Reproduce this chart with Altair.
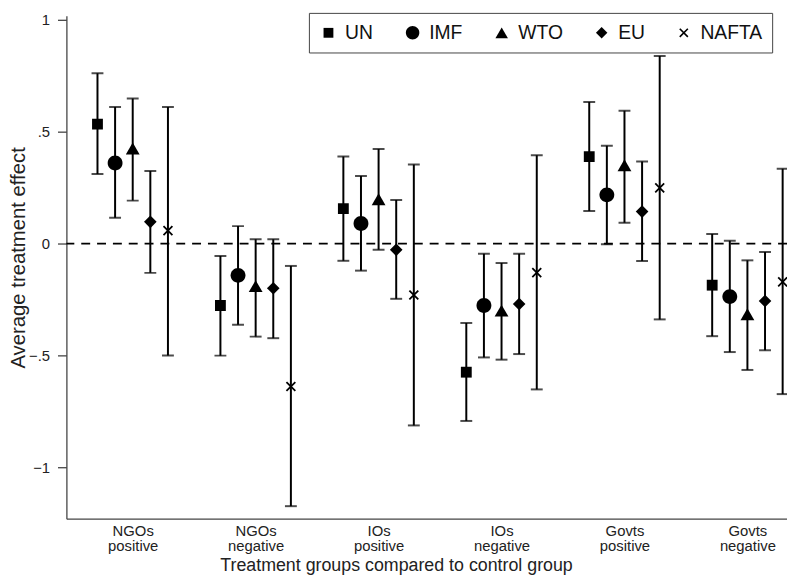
import json
import altair as alt
import pandas as pd

groups = ["NGOs positive", "NGOs negative", "IOs positive", "IOs negative", "Govts positive", "Govts negative"]
orgs = ["UN", "IMF", "WTO", "EU", "NAFTA"]

# point estimates and 95% CI bounds, one list per organisation, in group order
est = {
    "UN":    [0.534, -0.277, 0.156, -0.575, 0.389, -0.186],
    "IMF":   [0.360, -0.142, 0.090, -0.277, 0.218, -0.237],
    "WTO":   [0.425, -0.190, 0.198, -0.300, 0.350, -0.316],
    "EU":    [0.097, -0.200, -0.028, -0.270, 0.143, -0.257],
    "NAFTA": [0.058, -0.639, -0.230, -0.130, 0.249, -0.171],
}
lo = {
    "UN":    [0.311, -0.501, -0.077, -0.793, 0.146, -0.414],
    "IMF":   [0.115, -0.363, -0.121, -0.509, -0.003, -0.485],
    "WTO":   [0.192, -0.416, -0.028, -0.519, 0.093, -0.565],
    "EU":    [-0.131, -0.423, -0.247, -0.494, -0.078, -0.477],
    "NAFTA": [-0.500, -1.174, -0.813, -0.652, -0.339, -0.673],
}
hi = {
    "UN":    [0.761, -0.056, 0.389, -0.355, 0.633, 0.043],
    "IMF":   [0.611, 0.078, 0.302, -0.046, 0.437, 0.013],
    "WTO":   [0.649, 0.019, 0.423, -0.087, 0.594, -0.075],
    "EU":    [0.324, 0.019, 0.195, -0.046, 0.367, -0.038],
    "NAFTA": [0.611, -0.100, 0.354, 0.395, 0.839, 0.335],
}

rows = []
for o in orgs:
    for gi, g in enumerate(groups):
        rows.append({"group": g, "org": o, "est": est[o][gi], "lo": lo[o][gi], "hi": hi[o][gi]})
df = pd.DataFrame(rows)

FONT = "Liberation Sans"
groups_js = json.dumps(groups)
orgs_js = json.dumps(orgs)

base = alt.Chart(df).transform_calculate(
    xpos=f"indexof({groups_js}, datum.group) + 1 + (indexof({orgs_js}, datum.org) - 2) * 0.1433"
)

xscale = alt.Scale(domain=[0.4606, 6.322], nice=False, zero=False)
yscale = alt.Scale(domain=[-1.23, 1.018], nice=False, zero=False)

x_axis = alt.Axis(
    values=[1, 2, 3, 4, 5, 6],
    labelExpr=f"split({groups_js}[datum.value - 1], ' ')",
    ticks=False, grid=False, labelPadding=5, labelFontSize=15, labelLineHeight=15,
    labelOverlap=False, labelFlush=False, labelColor="#222",
    domainColor="#444", domainWidth=1.3,
    title="Treatment groups compared to control group", titleFontSize=18,
    titleFontWeight="normal", titleColor="#222", titleX=333, titleY=52,
    titleBaseline="alphabetic", titleAlign="center",
)
y_axis = alt.Axis(
    values=[-1, -0.5, 0, 0.5, 1],
    labelExpr="datum.value == 0 ? '0' : replace(format(datum.value, ''), '0.', '.')",
    grid=False, tickSize=9, tickColor="#444", tickWidth=1.3, labelPadding=8,
    labelFontSize=15, labelColor="#222", domainColor="#444", domainWidth=1.3,
    title="Average treatment effect", titleFontSize=20.5, titleFontWeight="normal",
    titleColor="#222", titleX=-42, titleY=244, titleBaseline="alphabetic",
    titleAlign="center", titleAngle=270,
)

zero = alt.Chart(pd.DataFrame({"zero": [0.0]})).mark_rule(
    strokeDash=[9, 7], strokeWidth=1.8, color="black"
).encode(y=alt.Y("zero:Q", scale=yscale, axis=y_axis))

bars = base.mark_rule(strokeWidth=2, color="black", clip=True).encode(
    x=alt.X("xpos:Q", scale=xscale, axis=x_axis),
    y=alt.Y("lo:Q", scale=yscale, axis=y_axis),
    y2="hi:Q",
)
cap_lo = base.mark_tick(orient="horizontal", size=12, thickness=2, color="black", clip=True).encode(
    x=alt.X("xpos:Q", scale=xscale, axis=x_axis), y=alt.Y("lo:Q", scale=yscale, axis=y_axis)
)
cap_hi = base.mark_tick(orient="horizontal", size=12, thickness=2, color="black", clip=True).encode(
    x=alt.X("xpos:Q", scale=xscale, axis=x_axis), y=alt.Y("hi:Q", scale=yscale, axis=y_axis)
)

# filled marker outlines in unit coordinates (scaled by sqrt(size)/2)
shapes = [
    "M-0.73,-0.73H0.73V0.73H-0.73Z",
    "M-1,0A1,1 0 1,0 1,0A1,1 0 1,0 -1,0Z",
    "M0,-0.8L0.93,0.8L-0.93,0.8Z",
    "M-0.85,0L0,-0.85L0.85,0L0,0.85Z",
    "M-0.515,-0.685L0.685,0.515L0.515,0.685L-0.685,-0.515Z"
    "M-0.685,0.515L0.515,-0.685L0.685,-0.515L-0.515,0.685Z",
]
pts = base.mark_point(
    filled=True, opacity=1, color="black", size=225, clip=True
).encode(
    x=alt.X("xpos:Q", scale=xscale, axis=x_axis),
    y=alt.Y("est:Q", scale=yscale, axis=y_axis),
    shape=alt.Shape(
        "org:N", scale=alt.Scale(domain=orgs, range=shapes),
        legend=alt.Legend(
            title=None, orient="none", legendX=245, legendY=-3, direction="horizontal",
            strokeColor="#444", padding=10, labelFontSize=19.5, labelFont=FONT,
            labelColor="#111", columnPadding=29, labelOffset=7, symbolSize=185,
            symbolFillColor="black", symbolOpacity=1,
        ),
    ),
)

chart = alt.layer(zero, bars, cap_lo, cap_hi, pts).properties(
    width=728, height=508,
    padding={"left": 59, "top": 5, "right": 0, "bottom": 60},
    autosize=alt.AutoSizeParams(type="none"),
).configure(font=FONT).configure_view(stroke=None)

chart.save("out.html", embed_options={"renderer": "svg", "actions": False})
